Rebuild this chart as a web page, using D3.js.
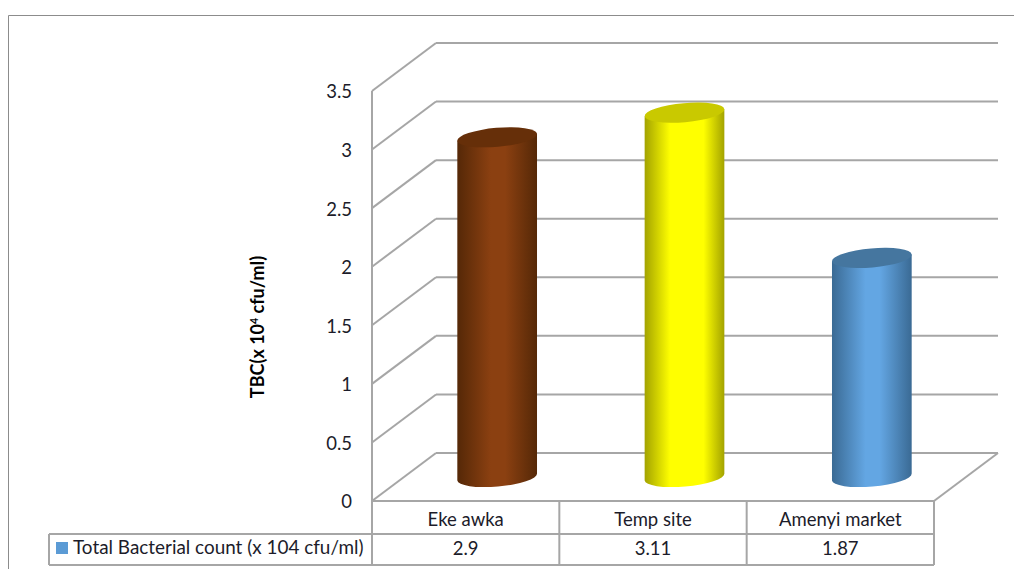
<!DOCTYPE html>
<html>
<head>
<meta charset="utf-8">
<title>Total Bacterial count</title>
<script src="https://cdnjs.cloudflare.com/ajax/libs/d3/7.8.5/d3.min.js"></script>
<style>
	html, body { margin: 0; padding: 0; background: #fff; }
	svg { display: block; }
	text { font-family: Lato, "Open Sans", sans-serif; fill: #1c1c2a; }
</style>
</head>
<body>
<div class="chart"></div>
<script>
var categories = ['Eke awka', 'Temp site', 'Amenyi market'];
var bacterialCount = [2.9, 3.11, 1.87];
var yTicks = [0, 0.5, 1, 1.5, 2, 2.5, 3, 3.5];
var seriesName = 'Total Bacterial count (x 104 cfu/ml)';
var edgeColors = ['#552807', '#a3a300', '#3a6a94'];
var midColors = ['#8b4011', '#ffff00', '#63a6e3'];
var capColors = ['#662f09', '#c9c900', '#45769f'];

;(function() {

	var width = 1014, height = 569;
	var grey = '#a6a6a6';
	// the floor and back wall are the front plane shifted by this much
	var depth = { x: 64, y: -48 };
	var front = { left: 372, right: 934, bottom: 501, top: 91 };

	var svg = d3.select('.chart').append('svg')
		.attr('width', width)
		.attr('height', height);

	var y = d3.scaleLinear().domain([0, 3.5]).range([front.bottom, front.top]);
	var x = d3.scaleBand().domain(categories).range([front.left, front.right]);

	function line(g, x1, y1, x2, y2) {
		return g.append('line')
			.attr('x1', x1).attr('y1', y1)
			.attr('x2', x2).attr('y2', y2)
			.attr('stroke', grey)
			.attr('stroke-width', 2);
	}

	// outer frame, open on the right and bottom
	svg.append('path')
		.attr('d', 'M8.5,569V15.5H1014')
		.attr('fill', 'none')
		.attr('stroke', '#8c8c8c');

	// walls
	var walls = svg.append('g');
	yTicks.forEach(function(t) {
		line(walls, front.left, y(t), front.left + depth.x, y(t) + depth.y);
		line(walls, front.left + depth.x, y(t) + depth.y, front.right + depth.x, y(t) + depth.y);
	});
	line(walls, front.right, front.bottom, front.right + depth.x, front.bottom + depth.y);

	var yAxis = d3.axisLeft(y)
		.tickValues(yTicks)
		.tickFormat(function(d) { return String(d); })
		.tickSize(0)
		.tickPadding(20);
	var yGroup = svg.append('g')
		.attr('transform', 'translate(' + front.left + ',1)')
		.call(yAxis);
	yGroup.select('.domain').remove();
	yGroup.selectAll('text').style('font-size', '18.5px');
	line(svg, front.left, front.top, front.left, 566);

	// axis title
	var title = svg.append('text')
		.attr('transform', 'translate(264,327) rotate(-90)')
		.attr('text-anchor', 'middle')
		.style('font-size', '18px')
		.style('font-weight', 700)
		.style('fill', '#000');
	title.append('tspan').text('TBC(x 10');
	title.append('tspan').attr('dy', -6).style('font-size', '10.5px').text('4');
	title.append('tspan').attr('dy', 6).text(' cfu/ml)');

	// cylinders, the yellow one has a wider highlight band
	var defs = svg.append('defs');
	categories.forEach(function(c, i) {
		var grad = defs.append('linearGradient').attr('id', 'cyl' + i);
		grad.append('stop').attr('offset', '0%').attr('stop-color', edgeColors[i]);
		grad.append('stop').attr('offset', i === 1 ? '32%' : '42%').attr('stop-color', midColors[i]);
		grad.append('stop').attr('offset', i === 1 ? '74%' : '60%').attr('stop-color', midColors[i]);
		grad.append('stop').attr('offset', '100%').attr('stop-color', edgeColors[i]);
	});

	var rx = 40, ry = 9.5, tilt = -5;
	var dx = rx * Math.cos(tilt * Math.PI / 180);
	var dy = rx * Math.sin(tilt * Math.PI / 180);
	// bar base sits halfway into the floor
	var baseShift = { x: 31.5, y: -24 };

	var bars = svg.selectAll('g.bar')
		.data(categories)
		.enter()
		.append('g')
		.attr('class', 'bar');

	bars.append('path')
		.attr('fill', function(d, i) { return 'url(#cyl' + i + ')'; })
		.attr('d', function(d, i) {
			var cx = x(d) + x.bandwidth() / 2 + baseShift.x;
			var top = y(bacterialCount[i]) + baseShift.y;
			var bottom = y(0) + baseShift.y;
			return 'M' + (cx - dx) + ',' + (top - dy) +
				'L' + (cx - dx) + ',' + (bottom - dy) +
				'A' + rx + ',' + ry + ' ' + tilt + ' 0 0 ' + (cx + dx) + ',' + (bottom + dy) +
				'L' + (cx + dx) + ',' + (top + dy) + 'Z';
		});

	bars.append('ellipse')
		.attr('rx', rx)
		.attr('ry', ry)
		.attr('fill', function(d, i) { return capColors[i]; })
		.attr('transform', function(d, i) {
			var cx = x(d) + x.bandwidth() / 2 + baseShift.x;
			var top = y(bacterialCount[i]) + baseShift.y;
			return 'translate(' + cx + ',' + top + ') rotate(' + tilt + ')';
		});

	// data table under the plot
	var rowTop = 534, rowBottom = 565, legendLeft = 49;
	var table = svg.append('g');
	line(table, front.left, front.bottom, front.right, front.bottom);
	line(table, legendLeft, rowTop, front.right, rowTop);
	line(table, legendLeft, rowBottom, front.right, rowBottom);
	line(table, legendLeft, rowTop, legendLeft, rowBottom);
	categories.forEach(function(c) {
		line(table, x(c) + x.bandwidth(), front.bottom, x(c) + x.bandwidth(), rowBottom);
	});

	table.selectAll('text.cat')
		.data(categories)
		.enter()
		.append('text')
		.attr('class', 'cat')
		.attr('x', function(d) { return x(d) + x.bandwidth() / 2; })
		.attr('y', 526)
		.attr('text-anchor', 'middle')
		.style('font-size', '18.5px')
		.text(function(d) { return d; });

	table.selectAll('text.val')
		.data(bacterialCount)
		.enter()
		.append('text')
		.attr('class', 'val')
		.attr('x', function(d, i) { return x(categories[i]) + x.bandwidth() / 2; })
		.attr('y', 555)
		.attr('text-anchor', 'middle')
		.style('font-size', '18.5px')
		.text(function(d) { return d; });

	table.append('rect')
		.attr('x', 56).attr('y', 542)
		.attr('width', 12).attr('height', 12)
		.attr('fill', '#5b9bd5');
	table.append('text')
		.attr('x', 73).attr('y', 554)
		.style('font-size', '18.9px')
		.text(seriesName);

})();
</script>
</body>
</html>
